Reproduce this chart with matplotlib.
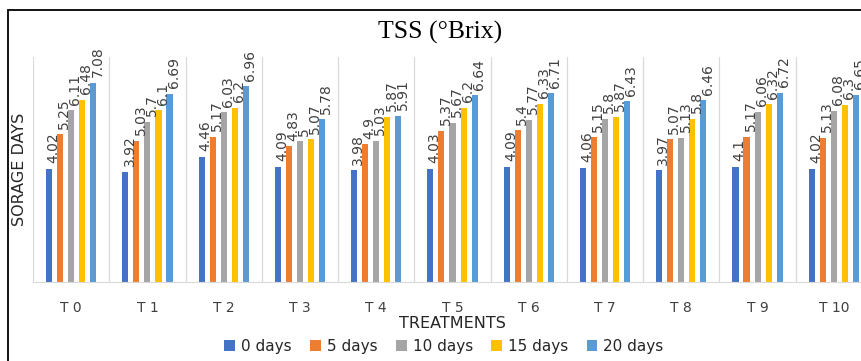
import numpy as np
import matplotlib.pyplot as plt
from matplotlib.patches import Rectangle

treatments = ["T 0", "T 1", "T 2", "T 3", "T 4", "T 5", "T 6", "T 7", "T 8", "T 9", "T 10"]
days = ["0 days", "5 days", "10 days", "15 days", "20 days"]

day0 = [4.02, 3.92, 4.46, 4.09, 3.98, 4.03, 4.09, 4.06, 3.97, 4.1, 4.02]
day5 = [5.25, 5.03, 5.17, 4.83, 4.9, 5.37, 5.4, 5.15, 5.07, 5.17, 5.13]
day10 = [6.11, 5.7, 6.03, 5, 5.03, 5.67, 5.77, 5.8, 5.13, 6.06, 6.08]
day15 = [6.48, 6.1, 6.2, 5.07, 5.87, 6.2, 6.33, 5.87, 5.8, 6.32, 6.3]
day20 = [7.08, 6.69, 6.96, 5.78, 5.91, 6.64, 6.71, 6.43, 6.46, 6.72, 6.65]

series = [day0, day5, day10, day15, day20]
colors = ["#4472C4", "#ED7D31", "#A5A5A5", "#FFC000", "#5B9BD5"]

W, H = 862, 361
fig = plt.figure(figsize=(W / 100, H / 100), dpi=100)

# outer chart border, runs off the right and bottom edges
fig.patches.append(Rectangle((8 / W, -0.1), 1.2, 1.1 - 10 / H, transform=fig.transFigure,
                             fill=False, edgecolor="black", linewidth=1.3, zorder=0))

# plot area is wider than the canvas, so the last group gets cut
ax = fig.add_axes([33 / W, 79 / H, 839 / W, 225 / H])
x = np.arange(len(treatments))
step = 0.145
width = 0.08
for i, (vals, c, lab) in enumerate(zip(series, colors, days)):
    xs = x + (i - 2) * step
    ax.bar(xs, vals, width=width, color=c, label=lab, zorder=2)
    for xi, v in zip(xs, vals):
        ax.annotate(str(v), (xi, v), xytext=(3, 4), textcoords="offset points",
                    rotation=90, ha="center", va="bottom", fontsize=10,
                    color="#404040", annotation_clip=False)

ax.set_xlim(-0.5, len(treatments) - 0.5)
ax.set_ylim(0, 8)
ax.set_yticks([])
ax.set_xticks(x)
ax.set_xticklabels(treatments, fontsize=10, color="#404040")
ax.tick_params(axis="x", length=0, pad=14)
for b in np.arange(-0.5, len(treatments), 1):
    ax.axvline(b, color="#D9D9D9", linewidth=0.9, zorder=1)
for s in ["top", "right", "left"]:
    ax.spines[s].set_visible(False)
ax.spines["bottom"].set_color("#D9D9D9")

ax.set_ylabel("SORAGE DAYS", fontsize=11.5, color="#262626", labelpad=4)
fig.text(452 / W, 1 - 323 / H, "TREATMENTS", ha="center", va="center",
         fontsize=11.5, color="#262626")
fig.text(440 / W, 1 - 32 / H, "TSS (°Brix)", ha="center", va="center",
         fontsize=18.5, family="Liberation Serif")

fig.legend(loc="center", bbox_to_anchor=(444 / W, 1 - 346 / H), ncol=5, frameon=False,
           fontsize=11, handlelength=0.7, handleheight=0.7, handletextpad=0.4,
           columnspacing=1.2, labelcolor="#262626")

fig.savefig("out.png", dpi=100)
